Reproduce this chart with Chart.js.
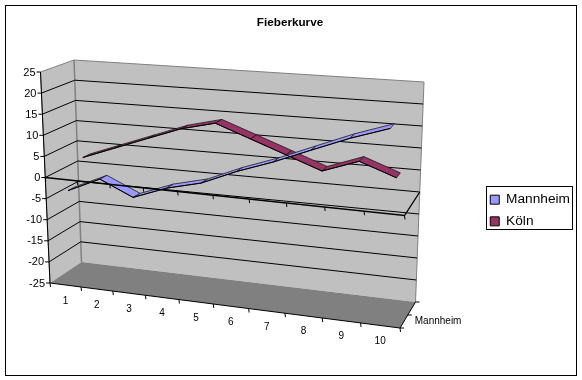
<!DOCTYPE html>
<html>
<head>
<meta charset="utf-8">
<style>html,body{margin:0;padding:0;background:#fff}canvas{display:block}</style>
<script src="https://cdn.jsdelivr.net/npm/chart.js@4"></script>
</head>
<body>
<canvas id="c" width="582" height="380"></canvas>
<script>
const categories = ['1','2','3','4','5','6','7','8','9','10'];
const mannheim = [-3.5,0,-3.5,-0.5,1.5,5,8,11.5,15,18];
const koeln = [2.5,5.5,8.5,11.5,13.5,10.5,7.5,4.5,7.5,4.5];
const depthLabel = 'Mannheim';
const valueMin = -25, valueMax = 25, valueStep = 5;

/* the box the Excel 3-D view draws, used to project the scales' pixels */
const box = {
  fbl:[50,283], ftl:[40.5,72], fbr:[400,328], ftr:[409,103],
  bbl:[81.5,262], btl:[74,60], bbr:[415.5,302], btr:[424,82], kf:1.143, kb:1.08
};
const bands = [[0.2,0.42],[0.68,0.9]];
const FONT = '"Liberation Sans", Arial, sans-serif';
const lerp=(a,b,t)=>[a[0]+(b[0]-a[0])*t,a[1]+(b[1]-a[1])*t];
function P(u,v,w){
  const tf=u/(u+box.kf*(1-u)), tb=u/(u+box.kb*(1-u));
  const f=lerp(lerp(box.fbl,box.fbr,tf),lerp(box.ftl,box.ftr,tf),v);
  const b=lerp(lerp(box.bbl,box.bbr,tb),lerp(box.btl,box.btr,tb),v);
  return lerp(f,b,w);
}
function uv(chart,i,val){
  const a=chart.chartArea,x=chart.scales.x,y=chart.scales.y;
  return [(x.getPixelForValue(i)-a.left)/a.width,(a.bottom-y.getPixelForValue(val))/a.height];
}
function poly(ctx,pts,fill,stroke,lw){
  ctx.beginPath();pts.forEach((p,i)=>i?ctx.lineTo(p[0],p[1]):ctx.moveTo(p[0],p[1]));
  if(fill){ctx.closePath();ctx.fillStyle=fill;ctx.fill();}
  if(stroke){ctx.strokeStyle=stroke;ctx.lineWidth=lw||1;ctx.stroke();}
}
function vOf(chart,val){return uv(chart,0,val)[1];}

const scene = {
  id:'scene',
  afterDatasetsUpdate(chart){
    chart.data.datasets.forEach((ds,d)=>{
      chart.getDatasetMeta(d).data.forEach((el,i)=>{
        const [u,v]=uv(chart,i,ds.data[i]);
        const p=P(u,v,bands[d][0]);
        el.x=p[0];el.y=p[1];
      });
    });
  },
  beforeDatasetsDraw(chart){
    const ctx=chart.ctx,ys=chart.scales.y;
    ctx.save();
    /* walls and floor */
    poly(ctx,[P(0,0,0),P(0,1,0),P(0,1,1),P(0,0,1)],'#C0C0C0');
    poly(ctx,[P(0,0,1),P(0,1,1),P(1,1,1),P(1,0,1)],'#C0C0C0');
    poly(ctx,[P(0,0,0),P(1,0,0),P(1,0,1),P(0,0,1)],'#808080');
    poly(ctx,[P(0,0,0),P(0,1,0),P(0,1,1),P(1,1,1),P(1,0,1)],null,'#808080',1);
    poly(ctx,[P(0,1,1),P(0,0,1)],null,'#808080',1.5);
    /* gridlines */
    ys.ticks.forEach(t=>{
      if(t.value===valueMin||t.value===valueMax)return;
      const v=vOf(chart,t.value);
      poly(ctx,[P(0,v,0),P(0,v,1),P(1,v,1)],null,'#000',1);
    });
    /* ribbons, rear series first */
    for(let d=chart.data.datasets.length-1;d>=0;d--){
      const ds=chart.data.datasets[d],[w0,w1]=bands[d];
      for(let i=0;i<ds.data.length-1;i++){
        const a=uv(chart,i,ds.data[i]),b=uv(chart,i+1,ds.data[i+1]);
        poly(ctx,[P(a[0],a[1],w0),P(b[0],b[1],w0),P(b[0],b[1],w1),P(a[0],a[1],w1)],ds.backgroundColor,'#1a1a1a',0.8);
      }
    }
    ctx.restore();
  },
  afterDatasetsDraw(chart){
    const ctx=chart.ctx,ys=chart.scales.y,xs=chart.scales.x;
    const v0=vOf(chart,0);
    ctx.save();
    /* category axis at value 0, bottom edge, depth edges */
    poly(ctx,[P(0,v0,0),P(1,v0,0),P(1,v0,1)],null,'#000',1.3);
    poly(ctx,[P(0,0,0),P(1,0,0),P(1,0,1)],null,'#000',1);
    poly(ctx,[P(0,0,0),P(0,1,0)],null,'#000',1);
    const n=categories.length;
    for(let i=0;i<=n;i++){
      const u=i/n;
      for(const v of [0,v0]){
        const p=P(u,v,0);
        poly(ctx,[p,[p[0]+0.5,p[1]+4]],null,'#000',1);
      }
    }
    [0,0.5,1].forEach(w=>{const p=P(1,0,w);poly(ctx,[p,[p[0]+4,p[1]]],null,'#000',1);});
    /* labels taken from the scales */
    ctx.fillStyle='#000';ctx.textBaseline='middle';
    ctx.textAlign='right';ctx.font='11px '+FONT;
    ys.ticks.forEach(t=>{
      const p=P(0,vOf(chart,t.value),0);
      poly(ctx,[p,[p[0]-4,p[1]]],null,'#000',1);
      ctx.fillStyle='#000';
      ctx.fillText(String(t.value),p[0]-5,p[1]+0.5);
    });
    ctx.textAlign='center';ctx.font='10px '+FONT;
    xs.ticks.forEach((t,i)=>{
      const [u]=uv(chart,i,0);
      const p=P(u,0,0);
      ctx.fillText(categories[i],p[0],p[1]+16);
    });
    const q=P(1,0,0.5);
    ctx.textAlign='left';
    ctx.fillText(depthLabel,q[0]+7,q[1]+6);
    ctx.restore();
  },
  afterDraw(chart){
    const ctx=chart.ctx;
    ctx.save();
    ctx.strokeStyle='#000';ctx.lineWidth=1;
    ctx.strokeRect(5.5,5.5,571,370);
    ctx.strokeRect(486.5,186.5,86,43);
    ctx.restore();
  }
};

new Chart(document.getElementById('c'),{
  type:'line',
  data:{
    labels:categories,
    datasets:[
      {label:'Mannheim',data:mannheim,backgroundColor:'#9999FF',borderColor:'#000',borderWidth:1,pointRadius:0,tension:0,fill:false,clip:false},
      {label:'Köln',data:koeln,backgroundColor:'#993366',borderColor:'#000',borderWidth:1,pointRadius:0,tension:0,fill:false,clip:false}
    ]
  },
  options:{
    responsive:false,animation:false,events:[],
    layout:{padding:{top:0,bottom:4,left:0,right:2}},
    scales:{
      x:{display:false,offset:true},
      y:{display:false,min:valueMin,max:valueMax,ticks:{stepSize:valueStep}}
    },
    plugins:{
      tooltip:{enabled:false},
      title:{display:true,text:'Fieberkurve',color:'#000',font:{family:FONT,size:11.7,weight:'bold'},padding:{top:16,bottom:15}},
      legend:{position:'right',fullSize:false,labels:{color:'#000',font:{family:FONT,size:13.7},boxWidth:9,boxHeight:9,padding:8}}
    }
  },
  plugins:[scene]
});
</script>
</body>
</html>
